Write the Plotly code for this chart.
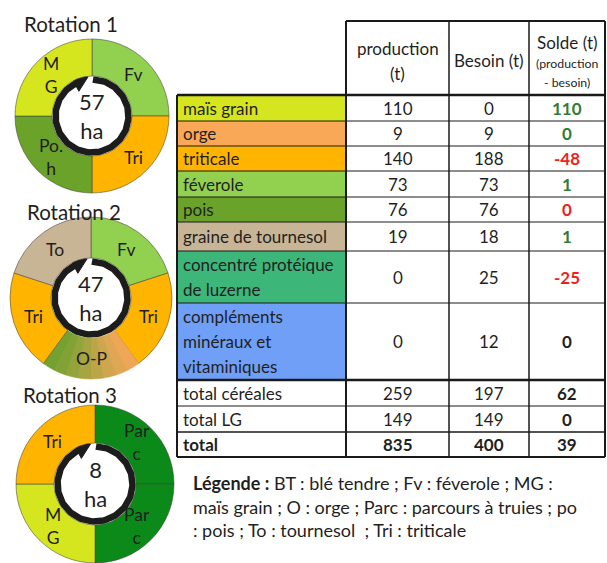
import numpy as np
import plotly.graph_objects as go

W, H = 607, 563          # page (window) size
OX, OY = 0, 0            # page body margin is removed below
FW, FH = W - OX, H - OY  # figure size

# ---------------- data ----------------
rotation_titles = ["Rotation 1", "Rotation 2", "Rotation 3"]
rotation_areas_ha = [57, 47, 8]

rot1_crops = ["Fv", "Tri", "Po.\nh", "M\nG"]
rot1_shares = [1, 1, 1, 1]
rot2_crops = ["Fv", "Tri", "O-P", "Tri", "To"]
rot2_shares = [1, 1, 1, 1, 1]
rot3_crops = ["Par\nc", "Par\nc", "M\nG", "Tri"]
rot3_shares = [1, 1, 1, 1]

feed_items = ["maïs grain", "orge", "triticale", "féverole", "pois",
              "graine de tournesol", "concentré protéique\nde luzerne",
              "compléments\nminéraux et\nvitaminiques",
              "total céréales", "total LG", "total"]
production_t = [110, 9, 140, 73, 76, 19, 0, 0, 259, 149, 835]
besoin_t = [0, 9, 188, 73, 76, 18, 25, 12, 197, 149, 400]
solde_t = [110, 0, -48, 1, 0, 1, -25, 0, 62, 0, 39]

legend_lines = ["<b>Légende :</b> BT : blé tendre ; Fv : féverole ; MG :",
                "maïs grain ; O : orge ; Parc : parcours à truies ; po",
                ": pois ; To : tournesol  ; Tri : triticale"]

# ---------------- styles ----------------
FONT = "Lato"
TXT = "#1f1f1f"
GREEN_T = "#2f7d32"
RED_T = "#f01e1e"
RING = "#1c1c1c"

crop_colors = {"Fv": "#92d050", "Tri": "#ffb400", "Po.\nh": "#6aa22a",
               "M\nG": "#d6e61e", "To": "#c8b596", "Par\nc": "#0b8a1a"}
op_gradient = ["#efa656", "#e0a653", "#cfa64e", "#bca548", "#a8a442",
               "#94a33c", "#82a236", "#74a131"]

item_colors = ["#d6e61e", "#f9a857", "#ffb400", "#92d050", "#6aa22a",
               "#c8b596", "#3db67a", "#6f9ff7", None, None, None]
solde_colors = [GREEN_T, GREEN_T, RED_T, GREEN_T, RED_T, GREEN_T, RED_T,
                TXT, TXT, TXT, TXT]

pie_centers = [(92, 116), (91, 298), (95, 484)]
pie_radii = [77, 81, 79]
hole_radii = [40, 40, 41]
title_pos = [(71, 24), (74, 212), (70, 395)]

row_edges = [95, 121, 146, 171, 197, 222, 251, 303, 380, 406, 432, 457]
col_edges = [177, 346, 449, 529, 605]
header_top = 21
LINE_H = 25
TFS = 17  # table font size

fig = go.Figure()
annotations = []
shapes = []


def ann(x, y, text, size=TFS, color=TXT, xanchor="center", yanchor="middle"):
    annotations.append(dict(x=x, y=y, xref="x", yref="y", text=text,
                            showarrow=False, xanchor=xanchor, yanchor=yanchor,
                            font=dict(family=FONT, size=size, color=color)))


def add_rotation(k, crops, shares):
    cx, cy = pie_centers[k]
    R = pie_radii[k]
    rh = hole_radii[k]
    labels, values, colors, lcols, lws = [], [], [], [], []
    for i, (c, v) in enumerate(zip(crops, shares)):
        if c == "O-P":
            n = len(op_gradient)
            for j, col in enumerate(op_gradient):
                labels.append(f"O-P part {j}")
                values.append(v / n)
                colors.append(col)
                lcols.append(col)
                lws.append(0.6)
        else:
            labels.append(f"{c} #{i}")
            values.append(v)
            colors.append(crop_colors[c])
            lcols.append("rgba(70,70,60,0.55)")
            lws.append(1)
    fig.add_trace(go.Pie(
        labels=labels, values=values, sort=False, direction="clockwise",
        rotation=0, hole=rh / R, textinfo="none", hoverinfo="skip",
        marker=dict(colors=colors, line=dict(color=lcols, width=lws)),
        domain=dict(x=[max(0.0, (cx - R - OX) / FW), min(1.0, (cx + R - OX) / FW)],
                    y=[max(0.0, 1 - (cy + R - OY) / FH), min(1.0, 1 - (cy - R - OY) / FH)])))
    # slice labels at mid-angle, mid-ring radius
    total = sum(shares)
    cum = 0
    rm = (R + rh) / 2
    for c, v in zip(crops, shares):
        a = np.deg2rad(360 * (cum + v / 2) / total)
        cum += v
        ann(cx + rm * np.sin(a), cy - rm * np.cos(a), c.replace("\n", "<br>"), size=17.5)
    # circular arrow (clockwise)
    rr = rh - 3.5
    tb = 332.0
    th = np.deg2rad(np.linspace(1.5, tb + 1, 200))
    fig.add_trace(go.Scatter(x=cx + rr * np.sin(th), y=cy - rr * np.cos(th),
                             mode="lines", line=dict(color=RING, width=6.5),
                             hoverinfo="skip"))
    b = np.deg2rad(tb)
    px, py = cx + rr * np.sin(b), cy - rr * np.cos(b)
    tx_, ty_ = np.cos(b), np.sin(b)        # tangent (clockwise)
    nx_, ny_ = np.sin(b), -np.cos(b)       # outward normal
    L, hw = 15, 8.5
    fig.add_trace(go.Scatter(
        x=[px + hw * nx_, px + L * tx_, px - hw * nx_, px + hw * nx_],
        y=[py + hw * ny_, py + L * ty_, py - hw * ny_, py + hw * ny_],
        mode="lines", fill="toself", fillcolor=RING,
        line=dict(color=RING, width=1), hoverinfo="skip"))
    ann(cx, cy, f"{rotation_areas_ha[k]}<br>ha", size=22)
    tx, ty = title_pos[k]
    ann(tx, ty, rotation_titles[k], size=20.5)


add_rotation(0, rot1_crops, rot1_shares)
add_rotation(1, rot2_crops, rot2_shares)
add_rotation(2, rot3_crops, rot3_shares)

# ---------------- table ----------------
x0, x1, x2, x3, x4 = col_edges
for i, col in enumerate(item_colors):
    if col:
        shapes.append(dict(type="rect", xref="x", yref="y", x0=x0, x1=x1,
                           y0=row_edges[i], y1=row_edges[i + 1],
                           fillcolor=col, line=dict(width=0), layer="below"))


def hline(y, xa, xb, w):
    shapes.append(dict(type="line", xref="x", yref="y", x0=xa, x1=xb, y0=y, y1=y,
                       line=dict(color="#1a1a1a", width=w), layer="above"))


def vline(x, ya, yb, w):
    shapes.append(dict(type="line", xref="x", yref="y", x0=x, x1=x, y0=ya, y1=yb,
                       line=dict(color="#1a1a1a", width=w), layer="above"))


hline(header_top, x1, x4, 2)
thick_rows = {95: 2.5, 380: 2.5, 432: 1.6, 457: 2.2}
for y in row_edges:
    hline(y, x0, x4, thick_rows.get(y, 1))
vline(x0, row_edges[0], row_edges[-1], 2)
vline(x1, header_top, row_edges[-1], 2)
vline(x2, header_top, row_edges[-1], 1.5)
vline(x3, header_top, row_edges[-1], 1.5)
vline(x4, header_top, row_edges[-1], 2)

cc = [(x1 + x2) / 2, (x2 + x3) / 2, (x3 + x4) / 2]
ann(cc[0], 48, "production")
ann(cc[0], 73, "(t)")
ann(cc[1], 60, "Besoin (t)")
ann(cc[2], 42, "Solde (t)")
ann(cc[2], 63, "(production", size=12.3)
ann(cc[2], 82, "- besoin)", size=12.3)

for i, item in enumerate(feed_items):
    ym = (row_edges[i] + row_edges[i + 1]) / 2
    is_total = item == "total"
    lines = item.split("\n")
    n = len(lines)
    for k, ln in enumerate(lines):
        yk = ym + (k - (n - 1) / 2) * LINE_H
        ann(x0 + 4, yk, f"<b>{ln}</b>" if is_total else ln, xanchor="left")
    vals = [production_t[i], besoin_t[i], solde_t[i]]
    for j, v in enumerate(vals):
        bold = is_total or j == 2
        t = f"<b>{v}</b>" if bold else f"{v}"
        ann(cc[j], ym, t, color=solde_colors[i] if j == 2 else TXT)

# ---------------- legend text ----------------
for k, ln in enumerate(legend_lines):
    ann(191, 483 + k * 23.5, ln, size=18, xanchor="left")

fig.update_layout(
    width=FW, height=FH, margin=dict(l=0, r=0, t=0, b=0),
    paper_bgcolor="white", plot_bgcolor="white", showlegend=False,
    xaxis=dict(range=[OX, W], visible=False, fixedrange=True),
    yaxis=dict(range=[H, OY], visible=False, fixedrange=True),
    annotations=annotations, shapes=shapes, hovermode=False,
)

fig.write_html(
    "out.html",
    config={"displayModeBar": False, "staticPlot": True},
    post_script=("document.body.style.margin='0';"
                 "document.body.style.overflow='hidden';"
                 "document.documentElement.style.overflow='hidden';"),
)
